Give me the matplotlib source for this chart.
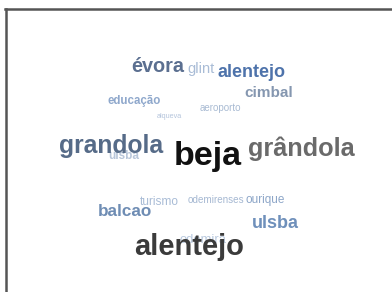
import matplotlib
matplotlib.use("Agg")
import matplotlib.pyplot as plt
from matplotlib.lines import Line2D

W, H = 392, 292

words = ["évora", "glint", "alentejo", "cimbal", "educação", "aeroporto", "alqueva",
         "grandola", "ulsba", "beja", "grândola", "turismo", "odemirenses", "ourique",
         "balcao", "ulsba", "odemira", "alentejo"]
freq = [14.3, 10.5, 13, 11, 8.3, 7, 5.2, 17.8, 8.5, 24.5, 18.2, 8.6, 7.1, 8.5, 12.3, 13, 9.4, 21]

# layout (pixel left, pixel baseline), weight, colour, drawing order
pos = [(131, 72), (187, 73), (217, 77), (244, 97), (108, 104), (200, 111), (157, 118),
       (59, 153), (108, 159), (174, 165), (248, 156), (140, 205), (188, 203), (245, 203),
       (98, 216), (252, 228), (180, 243), (134, 255)]
bold = [True, False, True, True, True, False, False, True, True, True, True, False, False,
        False, True, True, False, True]
colors = ["#5b6f90", "#a9bcd6", "#4e73ab", "#8597b0", "#8fa8cc", "#a9bbd3", "#b5c5dc",
          "#566b88", "#b8c6da", "#111111", "#6a6a6a", "#a9bcd6", "#a5b8d2", "#8da6c8",
          "#6f8db4", "#6f90bb", "#b9c9de", "#3b3b3b"]
order = [3, 2, 3, 3, 3, 2, 2, 3, 1, 3, 3, 1, 2, 2, 3, 3, 1, 3]

fig = plt.figure(figsize=(W / 100, H / 100), dpi=100)
fig.patch.set_facecolor("white")

for w, s, (x, y), b, c, z in zip(words, freq, pos, bold, colors, order):
    fig.text(x / W, 1 - y / H, w, fontsize=s, family="Liberation Sans",
             fontweight="bold" if b else "normal", color=c, ha="left", va="baseline",
             zorder=z)

fig.add_artist(Line2D([5 / W, 1], [1 - 9 / H, 1 - 9 / H], color="#555555", lw=1.8))
fig.add_artist(Line2D([6 / W, 6 / W], [0, 1 - 9 / H], color="#555555", lw=1.8))

fig.savefig("out.png", dpi=100)
